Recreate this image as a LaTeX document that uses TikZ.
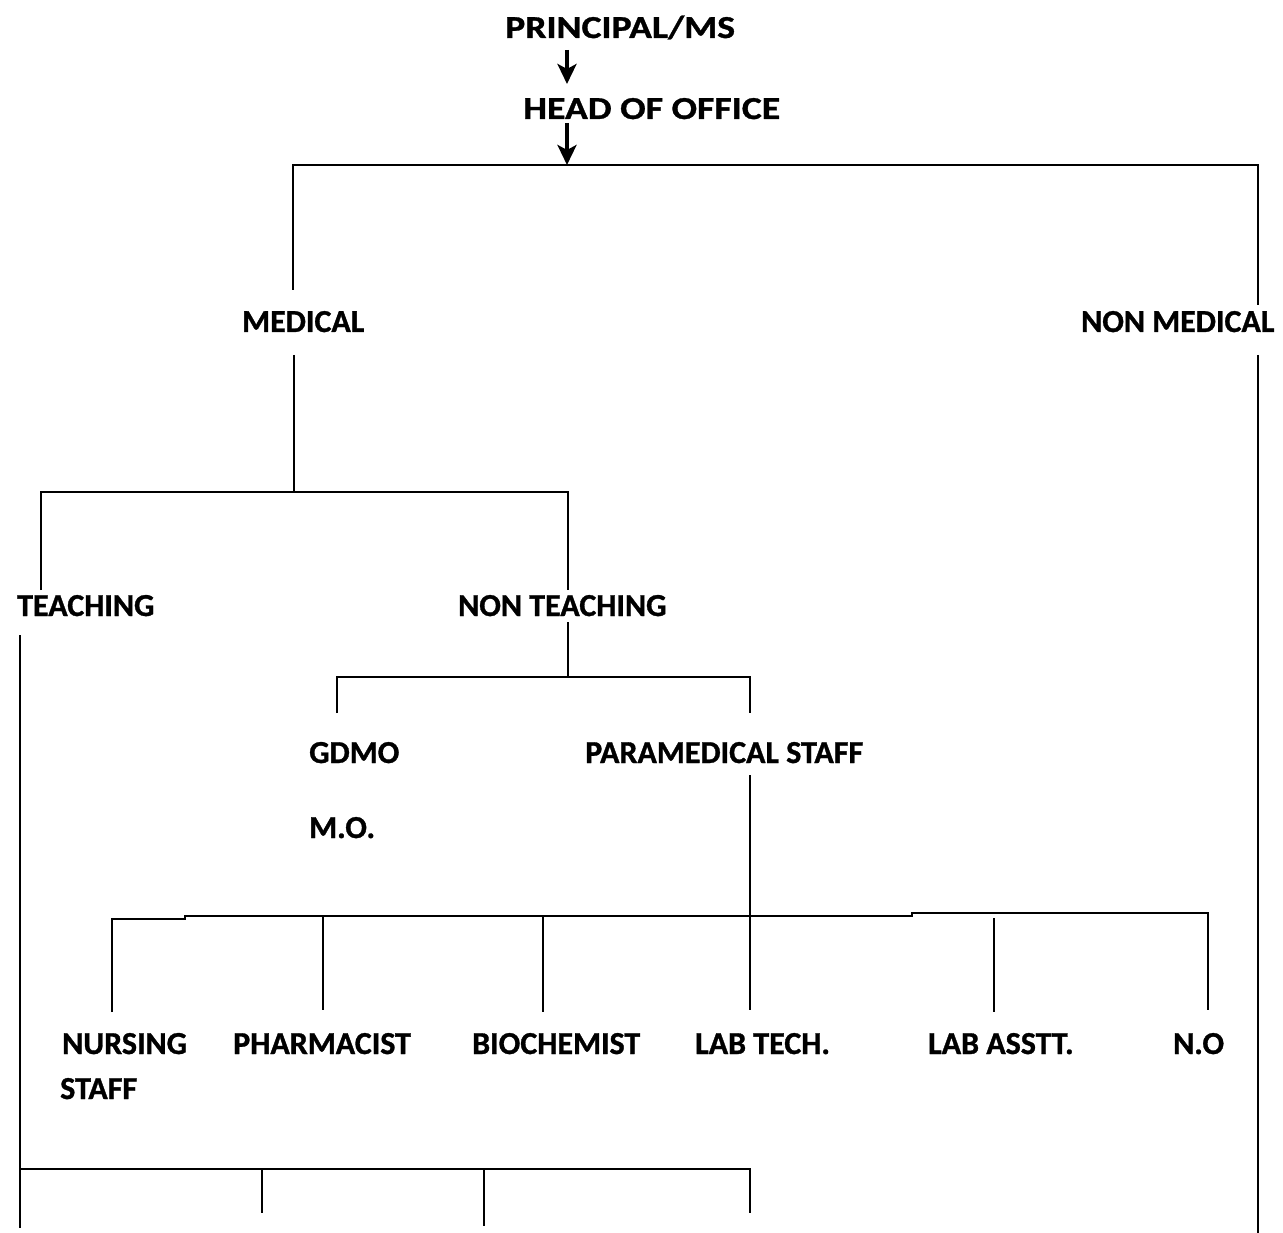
\documentclass[tikz,border=0pt]{standalone}
\usepackage{fontspec}
\setmainfont{Carlito}[BoldFeatures={FakeBold=1}]
\newfontfamily\topfont{Carlito}[FakeStretch=1.18,BoldFeatures={FakeBold=1}]
\usetikzlibrary{arrows.meta}
\begin{document}
\begin{tikzpicture}[x=1pt,y=-1pt,
  lbl/.style={inner sep=0pt,anchor=base west,font=\fontsize{32}{38}\selectfont\bfseries},
  toplbl/.style={lbl,font=\fontsize{32}{38}\topfont\bfseries},
  ln/.style={line width=2.4pt},
  arr/.style={line width=4pt,-{Stealth[width=19pt,length=20pt,inset=5pt]}}]
\useasboundingbox (0,0) rectangle (1283,1233);
% labels
\node[toplbl] (pms) at (505,38) {PRINCIPAL/MS};
\node[toplbl] (hoo) at (523,119) {HEAD OF OFFICE};
\node[lbl] (med) at (242,332) {MEDICAL};
\node[lbl] (nmed) at (1081,332) {NON MEDICAL};
\node[lbl] (teach) at (17,616) {TEACHING};
\node[lbl] (nteach) at (458,616) {NON TEACHING};
\node[lbl] (gdmo) at (309,763) {GDMO};
\node[lbl] (mo) at (309,838) {M.O.};
\node[lbl] (para) at (585,763) {PARAMEDICAL STAFF};
\node[lbl] (nurs) at (62,1054) {NURSING};
\node[lbl] (staff) at (60,1099) {STAFF};
\node[lbl] (pharm) at (233,1054) {PHARMACIST};
\node[lbl] (bio) at (472,1054) {BIOCHEMIST};
\node[lbl] (lt) at (695,1054) {LAB TECH.};
\node[lbl] (la) at (928,1054) {LAB ASSTT.};
\node[lbl] (no) at (1173,1054) {N.O};
% junction coordinates
\coordinate (a1s) at (567,50);  \coordinate (a1e) at (567,84);
\coordinate (a2s) at (567,123); \coordinate (a2e) at (567,165);
\coordinate (topL) at (293,165); \coordinate (topR) at (1258,165);
\coordinate (medT) at (293,290); \coordinate (nmedT) at (1258,305);
\coordinate (medB) at (294,355); \coordinate (medJ) at (294,492);
\coordinate (mL) at (41,492); \coordinate (mR) at (568,492);
\coordinate (teachT) at (41,590); \coordinate (nteachT) at (568,590);
\coordinate (teachB) at (20,635); \coordinate (teachE) at (20,1228);
\coordinate (nteachB) at (568,622); \coordinate (ntJ) at (568,677);
\coordinate (ntL) at (337,677); \coordinate (ntR) at (750,677);
\coordinate (gdmoT) at (337,713); \coordinate (paraT) at (750,713);
\coordinate (paraB) at (750,775); \coordinate (ltT) at (750,1010);
\coordinate (nursT) at (112,1012); \coordinate (b1) at (112,919);
\coordinate (b2) at (185,919); \coordinate (b3) at (185,916);
\coordinate (b4) at (912,916); \coordinate (b5) at (912,913);
\coordinate (b6) at (1208,913); \coordinate (noT) at (1208,1010);
\coordinate (phJ) at (323,916); \coordinate (phT) at (323,1010);
\coordinate (biJ) at (543,916); \coordinate (biT) at (543,1012);
\coordinate (laJ) at (994,918); \coordinate (laT) at (994,1012);
\coordinate (nmedB) at (1258,355); \coordinate (nmedE) at (1258,1233);
\coordinate (bbL) at (20,1169); \coordinate (bbR) at (750,1169);
\coordinate (bbRe) at (750,1213);
\coordinate (bb1) at (262,1169); \coordinate (bb1e) at (262,1213);
\coordinate (bb2) at (484,1169); \coordinate (bb2e) at (484,1226);
% arrows
\draw[arr] (a1s) -- (a1e);
\draw[arr] (a2s) -- (a2e);
% connectors
\draw[ln] (medT) -- (topL) -- (topR) -- (nmedT);
\draw[ln] (medB) -- (medJ);
\draw[ln] (teachT) -- (mL) -- (mR) -- (nteachT);
\draw[ln] (teachB) -- (teachE);
\draw[ln] (nteachB) -- (ntJ);
\draw[ln] (gdmoT) -- (ntL) -- (ntR) -- (paraT);
\draw[ln] (paraB) -- (ltT);
\draw[ln] (nursT) -- (b1) -- (b2) -- (b3) -- (b4) -- (b5) -- (b6) -- (noT);
\draw[ln] (phJ) -- (phT);
\draw[ln] (biJ) -- (biT);
\draw[ln] (laJ) -- (laT);
\draw[ln] (nmedB) -- (nmedE);
\draw[ln] (bbL) -- (bbR) -- (bbRe);
\draw[ln] (bb1) -- (bb1e);
\draw[ln] (bb2) -- (bb2e);
\end{tikzpicture}
\end{document}
